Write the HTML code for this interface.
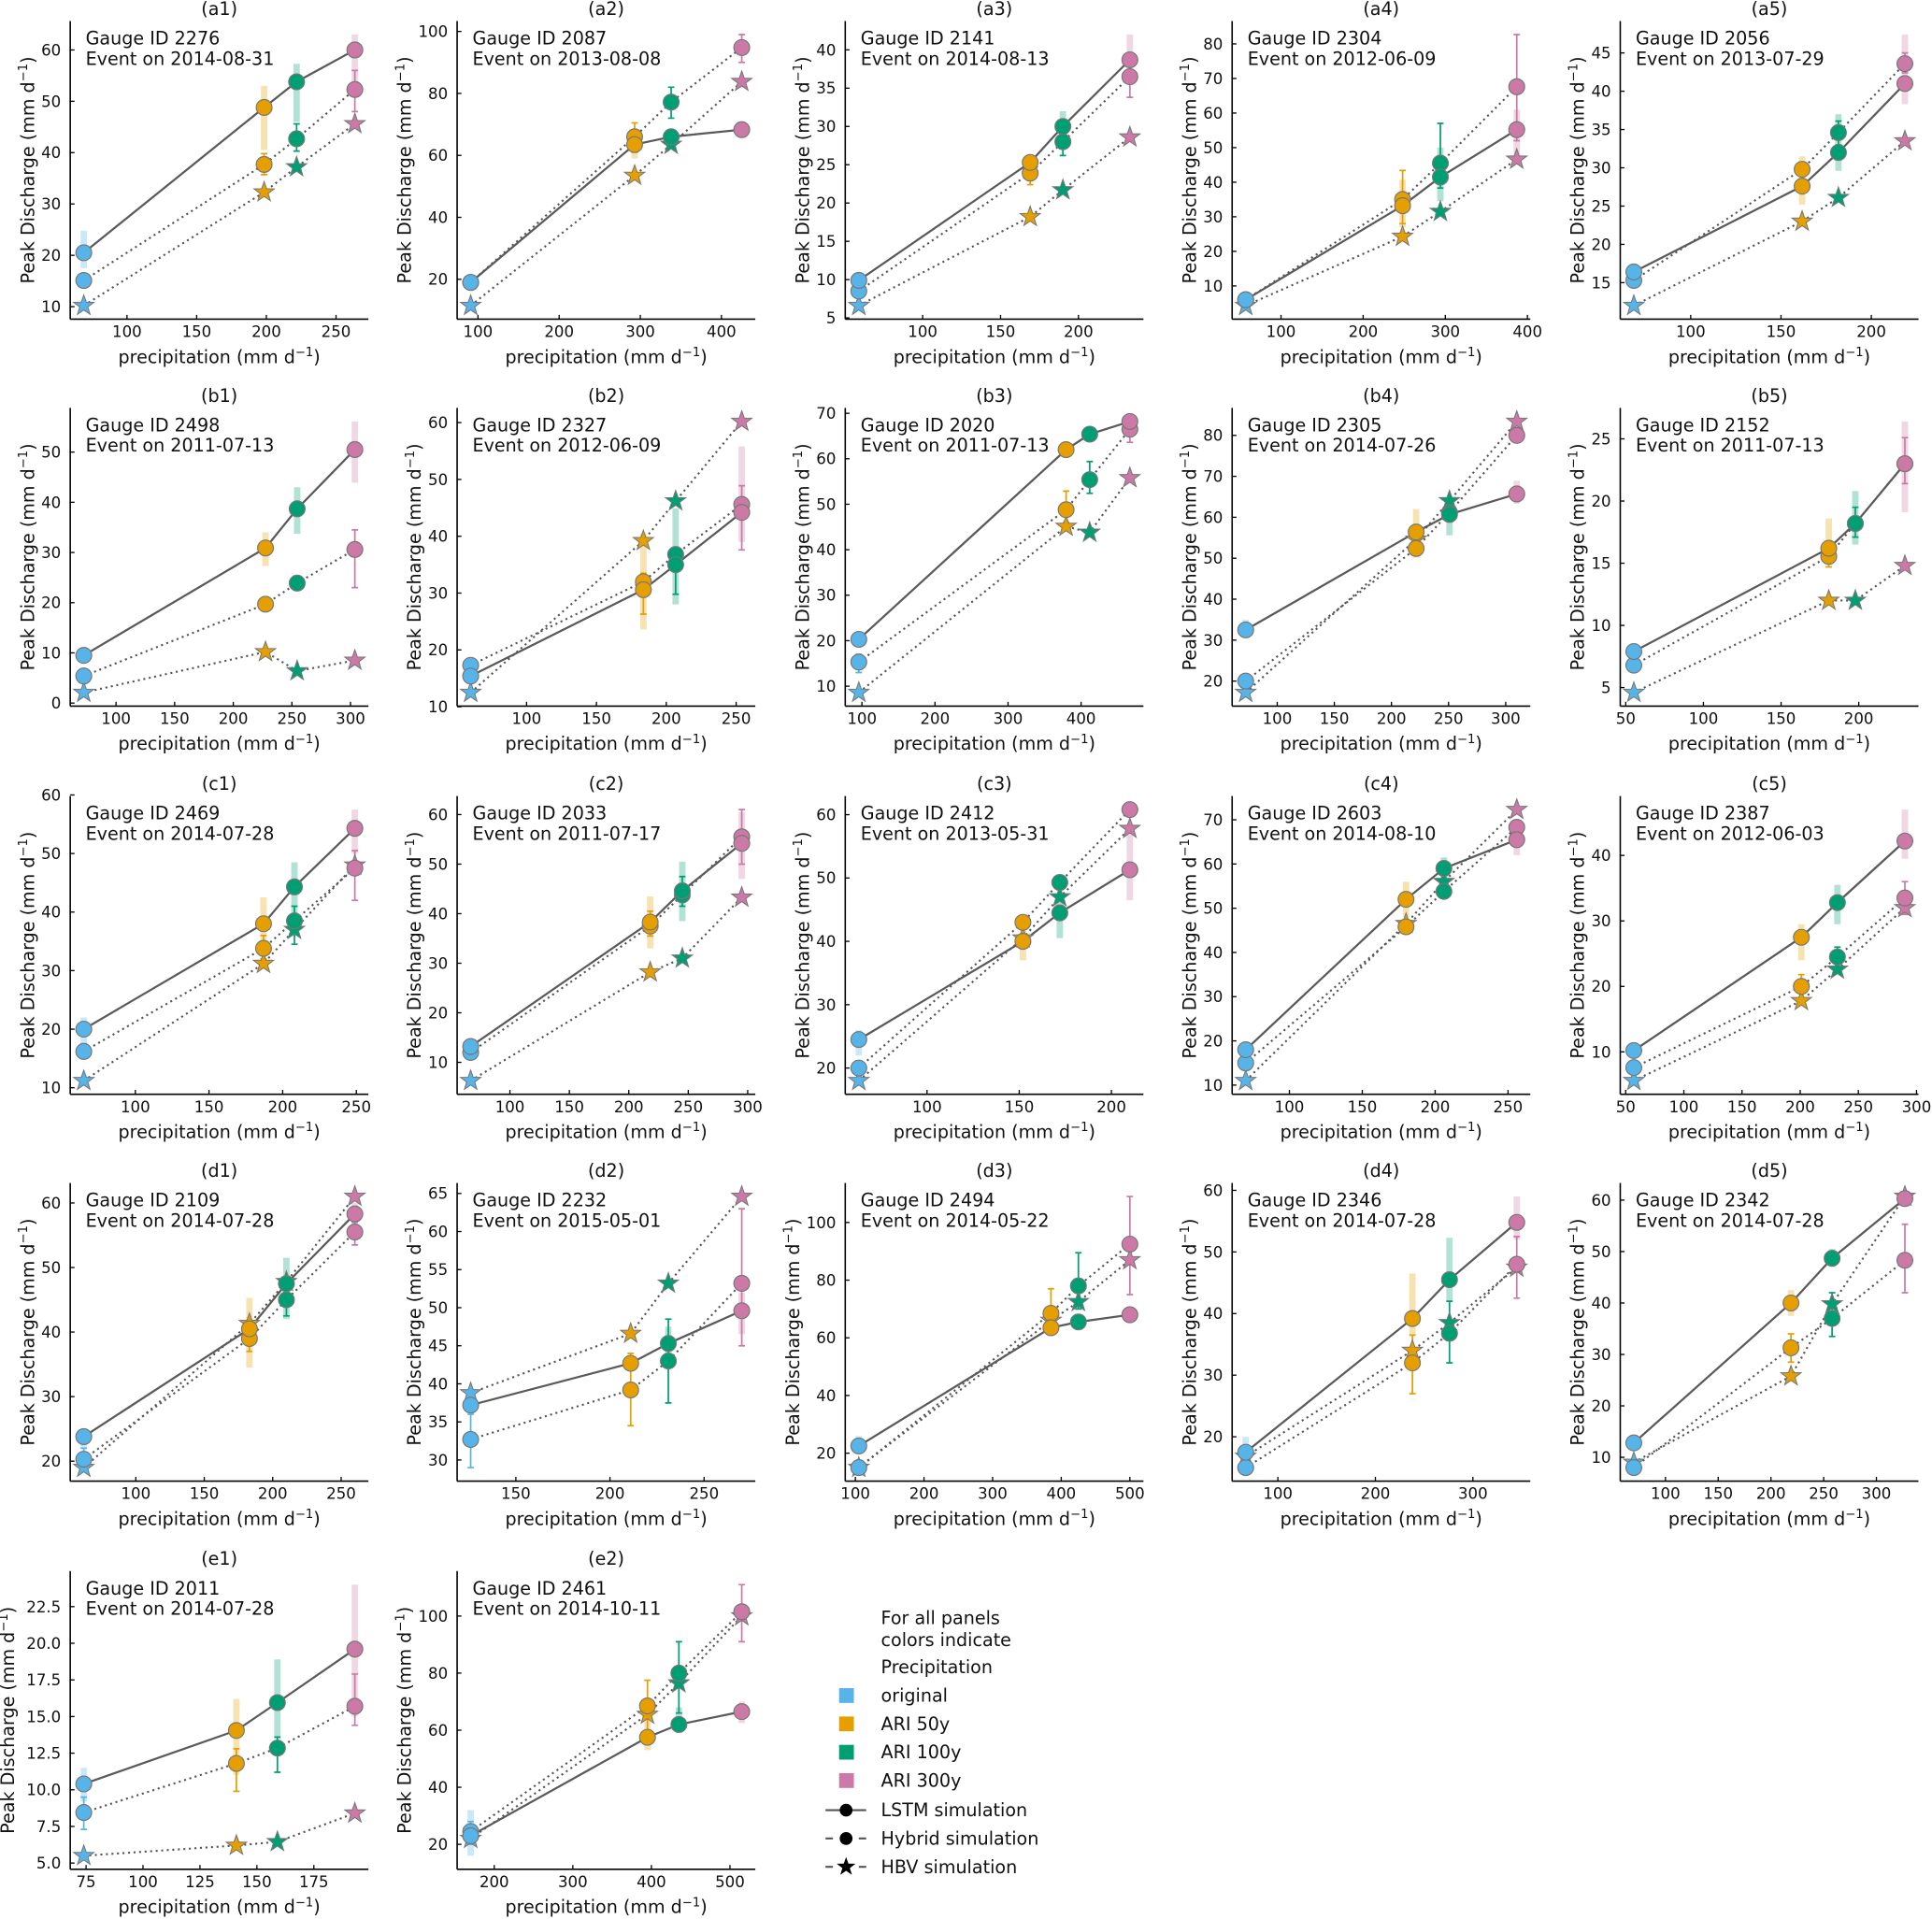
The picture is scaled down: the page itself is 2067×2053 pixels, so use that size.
<!DOCTYPE html>
<html><head><meta charset="utf-8"><title>Peak discharge vs precipitation</title>
<style>
html,body{margin:0;padding:0;background:#fff;}
svg{display:block;font-family:"DejaVu Sans","Liberation Sans",sans-serif;}
</style></head>
<body>
<svg id="fig" xmlns="http://www.w3.org/2000/svg" width="2067" height="2053" viewBox="0 0 1568 1557.3"></svg>
<script>
// ---- data ----
const panelLabels = ["a1","a2","a3","a4","a5","b1","b2","b3","b4","b5","c1","c2","c3","c4","c5","d1","d2","d3","d4","d5","e1","e2"];
const gaugeIds = ["2276","2087","2141","2304","2056","2498","2327","2020","2305","2152","2469","2033","2412","2603","2387","2109","2232","2494","2346","2342","2011","2461"];
const eventDates = ["2014-08-31","2013-08-08","2014-08-13","2012-06-09","2013-07-29","2011-07-13","2012-06-09","2011-07-13","2014-07-26","2011-07-13","2014-07-28","2011-07-17","2013-05-31","2014-08-10","2012-06-03","2014-07-28","2015-05-01","2014-05-22","2014-07-28","2014-07-28","2014-07-28","2014-10-11"];
const precip = [
[69,198.4,221.7,263.5],[91,293,338,425],[59,169,190,233],[57,248,294,387],[68.5,161.7,181.8,218.6],
[72.5,227.5,254.5,303.7],[60,183.6,206.7,254],[95.7,379.5,411.8,466.8],[72.4,221.6,250.8,309.7],[55.2,180.7,197.8,229.7],
[65,187,208,249],[67,218,245,295],[63,152,172,210],[70,180,206,256],[57,201,232,290],
[62,183,210,260],[126,211,231,270],[105,385,425,500],[67,238,276,345],[70,219,258,327],
[74,141,159,193],[170,395,435,515]];
const lstm = [
[20.5,48.8,53.8,60],[19,63.5,66,68.3],[9.9,25.3,30,38.7],[6,33.2,41.5,55.2],[16.4,27.6,32,41],
[9.5,30.9,38.7,50.5],[15.4,30.6,35,44.2],[20.3,62,65.4,68.2],[32.5,56.4,60.7,65.7],[7.9,16.2,18.2,23],
[20,38,44.3,54.3],[13.2,38.3,44.6,54.2],[24.5,40,44.5,51.3],[18,52,59,65.5],[10.2,27.5,32.8,42.2],
[23.8,40.5,47.5,58.3],[37.2,42.7,45.3,49.6],[22.5,63.5,65.5,68],[17.5,39.2,45.5,54.8],[12.8,40,48.7,60.3],
[10.4,14.05,15.95,19.6],[23,57.5,62,66.5]];
const hybrid = [
[15.1,37.7,42.7,52.3],[19,66,77.2,94.8],[8.5,23.9,28,36.5],[6,35,45.5,67.6],[15.3,29.8,34.6,43.6],
[5.4,19.7,23.9,30.6],[17.3,32,36.8,45.6],[15.3,48.8,55.4,66.5],[20,52.4,61.2,80],[6.8,15.55,18.2,23],
[16.2,33.8,38.5,47.5],[12,37.5,43.8,55.5],[20,43,49.3,60.8],[15,45.8,53.8,68.3],[7.6,20,24.5,33.5],
[20.3,39,45,55.5],[32.7,39.2,43,53.2],[15,68.5,78,92.5],[15,32,36.8,48],[8,31.3,37,48.3],
[8.45,11.8,12.85,15.7],[24.5,68.5,80,101.5]];
const hbv = [
[10.2,32.3,37.2,45.6],[11.5,53.5,63.5,83.8],[6.6,18.2,21.7,28.6],[4.3,24.3,31.5,46.6],[12,23,26.1,33.5],
[2.1,10.2,6.4,8.5],[12.5,39.2,46.2,60.2],[8.6,45.1,43.8,55.8],[17.2,54.6,64,83.4],[4.6,12,12,14.8],
[11.2,31.2,37,48],[6.3,28.2,31,43.3],[18,40.5,47,57.8],[11,46.5,56,72.3],[5.6,17.8,22.6,32],
[19,41.3,47.8,61],[38.8,46.6,53.2,64.6],[15,66,72.5,87],[16.8,34,38.5,47.5],[9,25.8,39.8,60.7],
[5.5,6.2,6.45,8.4],[22,65.5,76.5,100]];
const lstmLo = [
[17.5,40.5,46,52],[null,59,64,null],[null,null,29,38],[null,27,34.5,47],[14.5,25.2,29.6,38.3],
[8,27.3,33.7,43.9],[null,23.6,28,39],[null,null,null,null],[31,50.1,55.6,63.3],[null,15.4,16.5,19.1],
[17,35,36,50],[null,33,38.5,47],[22,37,40.5,46.5],[null,48,56,62],[null,24,29.5,39.5],
[22,34.5,42,56],[null,null,43,46.5],[20,null,null,null],[15.5,36.5,42,52],[null,37.5,47,null],
[9.2,11,13.5,15],[16,53,59,62.5]];
const lstmHi = [
[24.8,53,57.3,63],[null,64,68,null],[null,null,32,42],[null,40.7,50,61],[17.3,31.5,37,47.4],
[11.2,34,43,56.1],[null,40.5,44.9,55.8],[null,null,null,null],[35,62,64,68.9],[null,18.6,20.8,26.4],
[22,42.5,48.5,57.5],[null,43.5,50.5,60.5],[26,42,47,58],[null,56,61.5,68],[null,29.5,35.5,47],
[25,45.3,51.5,60],[null,null,47.5,52],[26,null,null,null],[20,46.5,52.3,59],[null,42.5,50.5,null],
[11.5,16.2,18.9,24],[32,64.5,68,70]];
const hybLo = [
[null,35.7,40.3,48],[null,61,72,90],[null,22.4,26.2,33.8],[null,28,38.3,52],[null,null,33,42.4],
[null,null,null,23],[null,26.3,29.8,37.6],[13,46,52.4,63.6],[null,null,null,null],[null,14.7,17.1,21.4],
[15,32,34.5,42],[null,35.5,41.5,50],[null,null,null,null],[null,null,null,null],[null,18,22.5,31],
[19,37,42.5,53.5],[29,34.5,37.5,45],[null,64,70,75],[null,27,32,42.5],[null,28.5,33.5,42],
[7.3,9.9,11.2,14.4],[20,59,66,91]];
const hybHi = [
[null,39.8,45.6,56],[null,70.5,82,99],[null,25.5,30,39],[null,43.4,57,82.7],[null,null,36.1,45],
[null,null,null,34.5],[null,33.5,37.5,48.9],[17,52.9,59.4,68],[null,null,null,null],[null,16.5,19.5,25.1],
[17.5,36,41,50.5],[null,40.5,47.5,61],[null,null,null,null],[null,null,null,null],[null,21.8,26,36],
[22,41,47,57],[36,44,48.5,63],[null,77,89.5,109],[null,36.5,42,52.5],[null,34,42,55.3],
[9.5,12.8,13.6,17.9],[28,77.5,91,111]];
const xTicks = [
[100,150,200,250],[100,200,300,400],[100,150,200],[100,200,300,400],[100,150,200],
[100,150,200,250,300],[100,150,200,250],[100,200,300,400],[100,150,200,250,300],[50,100,150,200],
[100,150,200,250],[100,150,200,250,300],[100,150,200],[100,150,200,250],[50,100,150,200,250,300],
[100,150,200,250],[150,200,250],[100,200,300,400,500],[100,200,300],[100,150,200,250,300],
[75,100,125,150,175],[200,300,400,500]];
const yTicks = [
[10,20,30,40,50,60],[20,40,60,80,100],[5,10,15,20,25,30,35,40],[10,20,30,40,50,60,70,80],[15,20,25,30,35,40,45],
[0,10,20,30,40,50],[10,20,30,40,50,60],[10,20,30,40,50,60,70],[20,30,40,50,60,70,80],[5,10,15,20,25],
[10,20,30,40,50,60],[10,20,30,40,50,60],[20,30,40,50,60],[10,20,30,40,50,60,70],[10,20,30,40],
[20,30,40,50,60],[30,35,40,45,50,55,60,65],[20,40,60,80,100],[20,30,40,50,60],[10,20,30,40,50,60],
[5,7.5,10,12.5,15,17.5,20,22.5],[20,40,60,80,100]];
const catColors = ["#56B4E9","#E69F00","#009E73","#CC79A7"];
const catNames = ["original","ARI 50y","ARI 100y","ARI 300y"];

// ---- drawing ----
const NS = "http://www.w3.org/2000/svg";
const svg = document.getElementById("fig");
function mk(tag, attrs, parent){
  const e = document.createElementNS(NS, tag);
  for (const k in attrs) e.setAttribute(k, attrs[k]);
  parent.appendChild(e);
  return e;
}
const colL = [57,371,686,1000,1315];
const rowB = [259,573,888,1202,1517];
const W = 242, H = 242;
const TXT = "#111";
function starPts(cx, cy, R){
  const r = R*0.4; let p = [];
  for (let k=0;k<10;k++){
    const a = -Math.PI/2 + k*Math.PI/5;
    const rr = (k%2===0)?R:r;
    p.push((cx+rr*Math.cos(a)).toFixed(2)+","+(cy+rr*Math.sin(a)).toFixed(2));
  }
  return p.join(" ");
}
function unitText(parent, x, y, prefix, attrs){
  const t = mk("text", Object.assign({x:x, y:y, "font-size":14.5, fill:TXT}, attrs||{}), parent);
  t.appendChild(document.createTextNode(prefix + " (mm d"));
  const s = mk("tspan", {dy:-5.5, "font-size":10}, t);
  s.textContent = "\u22121";
  const c = mk("tspan", {dy:5.5}, t);
  c.textContent = ")";
  return t;
}
function fmt(v, ticks){
  const dec = ticks.some(t => Math.round(t)!==t);
  return dec ? v.toFixed(1) : String(v);
}

for (let i=0;i<panelLabels.length;i++){
  const L = colL[i%5], B = rowB[Math.floor(i/5)], T = B - H;
  const g = mk("g", {}, svg);
  
  
  const xs = precip[i];
  let ys = [];
  [lstm[i],hybrid[i],hbv[i],lstmLo[i],lstmHi[i],hybLo[i],hybHi[i]].forEach(a => a.forEach(v => { if (v!==null) ys.push(v); }));
  const x0 = Math.min(...xs), x1 = Math.max(...xs), dx = (x1-x0)*0.05;
  const y0 = Math.min(...ys), y1 = Math.max(...ys), dy = (y1-y0)*0.05;
  const xmin = x0-dx, xmax = x1+dx, ymin = y0-dy, ymax = y1+dy;
  const sx = v => L + (v-xmin)/(xmax-xmin)*W;
  const sy = v => B - (v-ymin)/(ymax-ymin)*H;

  const tt = mk("text", {x:L+W/2, y:T-5, "text-anchor":"middle", "font-size":14.5, fill:TXT}, g);
  tt.textContent = "(" + panelLabels[i] + ")";
  
  

  xTicks[i].forEach(v => {
    const px = sx(v);
    const tk = mk("line", {x1:px, y1:B, x2:px, y2:B-3.5, stroke:"#000", "stroke-width":1}, g);
    
    
    const tl = mk("text", {x:px, y:B+14.5, "text-anchor":"middle", "font-size":12.6, fill:TXT}, g);
    tl.textContent = fmt(v, xTicks[i]);
    
    
  });
  let maxW = 0;
  yTicks[i].forEach(v => {
    const py = sy(v);
    const tk = mk("line", {x1:L, y1:py, x2:L+3.5, y2:py, stroke:"#000", "stroke-width":1}, g);
    
    
    const s = fmt(v, yTicks[i]);
    maxW = Math.max(maxW, s.length*8.0);
    const tl = mk("text", {x:L-7.5, y:py+4.5, "text-anchor":"end", "font-size":12.6, fill:TXT}, g);
    tl.textContent = s;
    
    
  });
  const xl = unitText(g, L+W/2, B+35.5, "precipitation", {"text-anchor":"middle"});
  
  
  const ycx = L - 7.5 - maxW - 11;
  const yl = unitText(g, 0, 0, "Peak Discharge", {"text-anchor":"middle", transform:"translate(" + (ycx+5) + "," + (B-H/2) + ") rotate(-90)"});
  
  

  const sp1 = mk("line", {x1:L, y1:T, x2:L, y2:B, stroke:"#000", "stroke-width":1.2}, g);
  
  
  const sp2 = mk("line", {x1:L, y1:B, x2:L+W, y2:B, stroke:"#000", "stroke-width":1.2}, g);
  
  

  for (let k=0;k<4;k++){
    if (lstmLo[i][k]===null) continue;
    const r = mk("rect", {x:sx(xs[k])-2.6, y:sy(lstmHi[i][k]), width:5.2, height:sy(lstmLo[i][k])-sy(lstmHi[i][k]), fill:catColors[k], "fill-opacity":0.3}, g);
    
    
  }
  for (let k=0;k<4;k++){
    if (hybLo[i][k]===null) continue;
    const px = sx(xs[k]), a = sy(hybLo[i][k]), b = sy(hybHi[i][k]);
    const e = mk("path", {d:"M"+px+","+a+"V"+b+"M"+(px-2.6)+","+a+"H"+(px+2.6)+"M"+(px-2.6)+","+b+"H"+(px+2.6), stroke:catColors[k], "stroke-width":1.3, fill:"none"}, g);
    
    
  }
  const ptsOf = arr => arr.map((v,k) => sx(xs[k]).toFixed(2)+","+sy(v).toFixed(2)).join(" ");
  const lHbv = mk("polyline", {points:ptsOf(hbv[i]), fill:"none", stroke:"#555", "stroke-width":1.6, "stroke-dasharray":"1.6 2.9"}, g);
  
  
  const lHyb = mk("polyline", {points:ptsOf(hybrid[i]), fill:"none", stroke:"#555", "stroke-width":1.6, "stroke-dasharray":"1.6 2.9"}, g);
  
  
  const lL = mk("polyline", {points:ptsOf(lstm[i]), fill:"none", stroke:"#5a5a5a", "stroke-width":1.7}, g);
  
  
  for (let k=0;k<4;k++){
    const st = mk("polygon", {points:starPts(sx(xs[k]), sy(hbv[i][k]), 8.6), fill:catColors[k], stroke:"#777", "stroke-width":0.8}, g);
    
    
  }
  for (let k=0;k<4;k++){
    const c = mk("circle", {cx:sx(xs[k]), cy:sy(hybrid[i][k]), r:6.4, fill:catColors[k], stroke:"#777", "stroke-width":0.9}, g);
    
    
  }
  for (let k=0;k<4;k++){
    const c = mk("circle", {cx:sx(xs[k]), cy:sy(lstm[i][k]), r:6.4, fill:catColors[k], stroke:"#777", "stroke-width":0.9}, g);
    
    
  }
  const an1 = mk("text", {x:L+12.5, y:T+19, "font-size":14.5, fill:TXT}, g);
  an1.textContent = "Gauge ID " + gaugeIds[i];
  
  
  const an2 = mk("text", {x:L+12.5, y:T+35.5, "font-size":14.5, fill:TXT}, g);
  an2.textContent = "Event on " + eventDates[i];
  
  
}

// ---- legend ----
const lg = mk("g", {}, svg);


const legTX = 715;
function legText(y, s, name){
  const t = mk("text", {x:legTX, y:y+5, "font-size":14.5, fill:TXT}, lg);
  t.textContent = s;
  
  
}
legText(1313, "For all panels", "legend-heading");
legText(1331, "colors indicate", "legend-heading-2");
legText(1353, "Precipitation", "legend-subtitle");
const legY = [1376,1399,1422,1445];
for (let k=0;k<4;k++){
  const r = mk("rect", {x:681, y:legY[k]-6, width:12, height:12, fill:catColors[k]}, lg);
  
  
  legText(legY[k], catNames[k], "legend-entry");
}
const simY = [1469,1492,1515];
const simNames = ["LSTM simulation","Hybrid simulation","HBV simulation"];
for (let k=0;k<3;k++){
  const y = simY[k];
  const ln = mk("line", {x1:670, y1:y, x2:703, y2:y, stroke:"#555", "stroke-width":1.6, "stroke-dasharray": k===0 ? "none" : "6 21 6"}, lg);
  
  
  if (k===2){
    const m = mk("polygon", {points:starPts(686.7, y, 8), fill:"#000"}, lg);
    
    
  } else {
    const m = mk("circle", {cx:686.7, cy:y, r:5.2, fill:"#000"}, lg);
    
    
  }
  legText(y, simNames[k], "legend-entry");
}
</script>
</body></html>
